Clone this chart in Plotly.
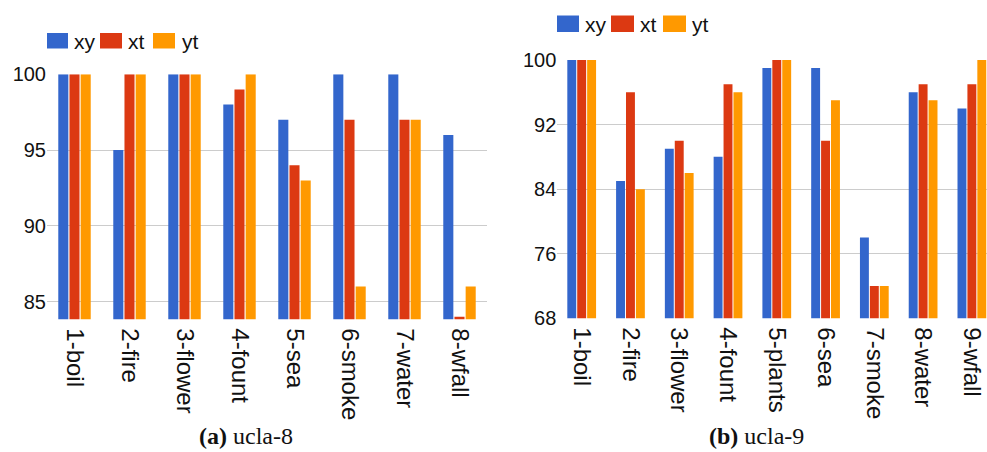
import plotly.graph_objects as go

# Series shared by both panels
series = ["xy", "xt", "yt"]
colors = ["#3366CC", "#DC3912", "#FF9900"]

# Panel (a): ucla-8
cats_a = ["1-boil", "2-fire", "3-flower", "4-fount", "5-sea", "6-smoke", "7-water", "8-wfall"]
xy_a = [100, 95, 100, 98, 97, 100, 100, 96]
xt_a = [100, 100, 100, 99, 94, 97, 97, 84]
yt_a = [100, 100, 100, 100, 93, 86, 97, 86]
ticks_a = [85, 90, 95, 100]

# Panel (b): ucla-9
cats_b = ["1-boil", "2-fire", "3-flower", "4-fount", "5-plants", "6-sea", "7-smoke", "8-water", "9-wfall"]
xy_b = [100, 85, 89, 88, 99, 99, 78, 96, 94]
xt_b = [100, 96, 90, 97, 100, 90, 72, 97, 97]
yt_b = [100, 84, 86, 96, 100, 95, 72, 95, 100]
ticks_b = [68, 76, 84, 92, 100]

captions = ["<b>(a)</b> ucla-8", "<b>(b)</b> ucla-9"]

W, H = 987, 452
SANS = "Liberation Sans, Arial, sans-serif"
SERIF = "Liberation Serif, Times New Roman, serif"


def px(x):
    return x / W


def py(y):
    return 1 - y / H


fig = go.Figure()

for vals_list, cats, xa, ya in [
    ([xy_a, xt_a, yt_a], cats_a, "x", "y"),
    ([xy_b, xt_b, yt_b], cats_b, "x2", "y2"),
]:
    for name, color, vals in zip(series, colors, vals_list):
        fig.add_trace(go.Bar(
            x=cats, y=vals, name=name,
            marker=dict(color=color, line=dict(width=0)),
            xaxis=xa, yaxis=ya, showlegend=False,
            hoverinfo="x+y+name",
        ))

axis_x = dict(
    type="category", showgrid=False, zeroline=False, showline=False,
    ticks="", tickangle=90, automargin=False, ticklabelstandoff=8,
    tickfont=dict(family=SANS, size=24, color="#111111"),
    fixedrange=True,
)
axis_y = dict(
    showgrid=True, gridcolor="#CCCCCC", gridwidth=1, zeroline=False,
    showline=False, ticks="", automargin=False,
    tickfont=dict(family=SANS, size=20, color="#111111"),
    fixedrange=True,
)

fig.update_layout(
    template="none",
    width=W, height=H, autosize=False,
    margin=dict(l=0, r=0, t=0, b=0, pad=0, autoexpand=False),
    paper_bgcolor="white", plot_bgcolor="white",
    showlegend=False,
    barmode="group", bargap=0.39, bargroupgap=0.1,
    xaxis=dict(axis_x, domain=[px(47), px(487)], anchor="y", range=[-0.5, 7.5]),
    yaxis=dict(axis_y, domain=[py(319.3), py(74.3)], anchor="x",
               range=[83.84, 100], tickvals=ticks_a),
    xaxis2=dict(axis_x, domain=[px(557.3), 1.0], anchor="y2", range=[-0.5, 8.31]),
    yaxis2=dict(axis_y, domain=[py(318.3), py(60)], anchor="x2",
                range=[68, 100], tickvals=ticks_b),
)

# Legends: coloured swatches followed by series names, one row per panel
legend_rows = [
    dict(top=33, bottom=48.5, swatches=[(47, 68), (100, 122), (153, 175)], text_x=[72, 126, 180]),
    dict(top=15.5, bottom=32, swatches=[(557, 579), (611, 634), (663, 686)], text_x=[583, 638, 690]),
]
for row in legend_rows:
    for (x0, x1), tx, name, color in zip(row["swatches"], row["text_x"], series, colors):
        fig.add_shape(type="rect", xref="paper", yref="paper",
                      x0=px(x0), x1=px(x1), y0=py(row["bottom"]), y1=py(row["top"]),
                      fillcolor=color, line=dict(width=0))
        fig.add_annotation(xref="paper", yref="paper", x=px(tx),
                           y=py((row["top"] + row["bottom"]) / 2 + 1),
                           text=name, showarrow=False, xanchor="left", yanchor="middle",
                           font=dict(family=SANS, size=21, color="#111111"))

# Panel captions
for cx, text in zip([246, 756], captions):
    fig.add_annotation(xref="paper", yref="paper", x=px(cx), y=py(436),
                       text=text, showarrow=False, xanchor="center", yanchor="middle",
                       font=dict(family=SERIF, size=24, color="#111111"))

fig.write_html("out.html")
